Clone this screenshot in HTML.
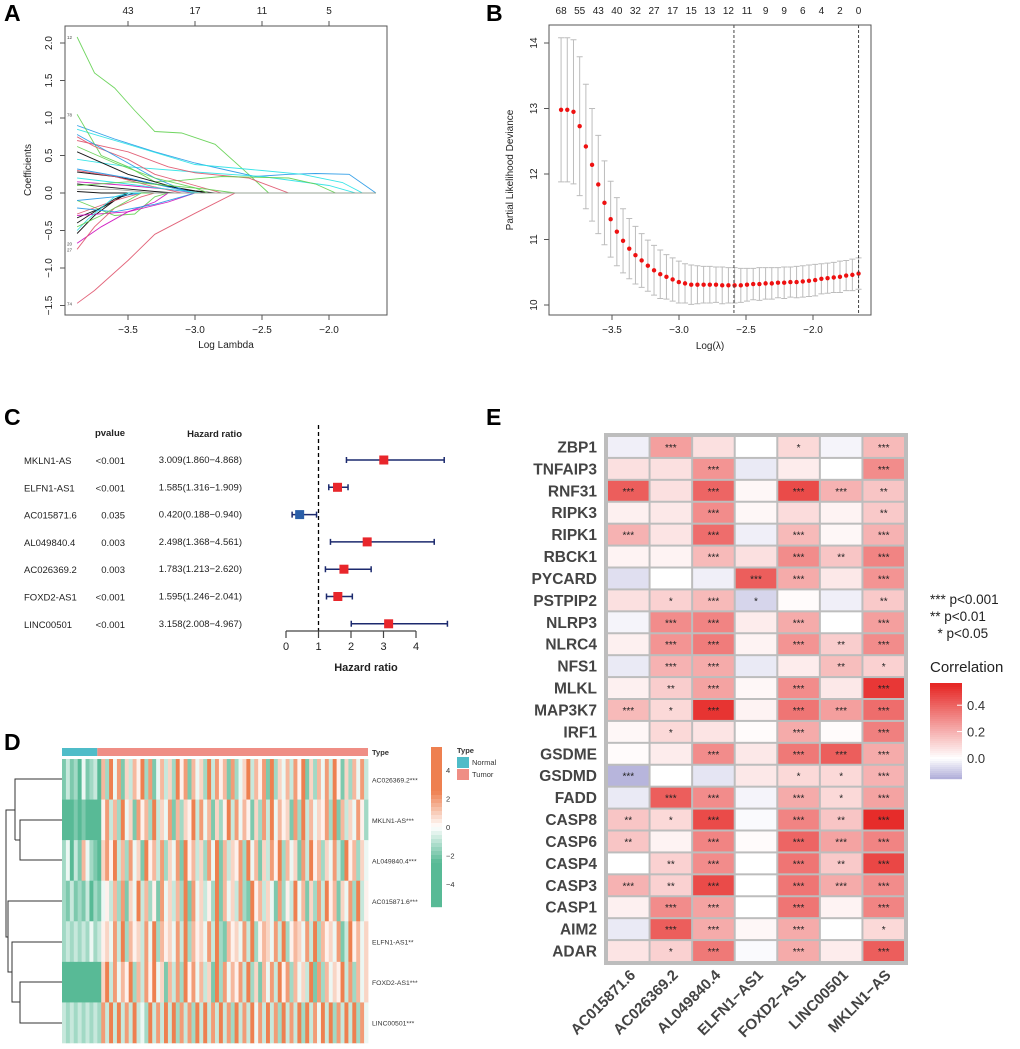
<!DOCTYPE html>
<html><head><meta charset="utf-8"><style>
html,body{margin:0;padding:0;background:#fff}
svg{display:block;font-family:"Liberation Sans",Arial,sans-serif}
</style></head><body>
<svg id="fig" width="1020" height="1049" viewBox="0 0 1020 1049" xmlns="http://www.w3.org/2000/svg">
<g id="pA"></g>
<g id="pB"></g>
<g id="pC"></g>
<g id="pD"></g>
<g id="pE"></g>
</svg>
<script>
const NS="http://www.w3.org/2000/svg";
function mk(parent,tag,attrs,text){const e=document.createElementNS(NS,tag);for(const k in attrs)e.setAttribute(k,attrs[k]);if(text!==undefined)e.textContent=text;parent.appendChild(e);return e;}

// ===== Panel A data =====
const aXTicks=[-3.5,-3.0,-2.5,-2.0];
const aYTicks=[-1.5,-1.0,-0.5,0.0,0.5,1.0,1.5,2.0];
const aTopLabels=["43","17","11","5"];
const aLineColors=["#61D04F","#DF536B","#2297E6","#28E2E5","#28E2E5","#DF536B","#61D04F","#61D04F",
"#000","#000","#000","#000","#000","#000","#000","#CD0BBC","#CD0BBC","#CD0BBC","#DF536B","#DF536B","#DF536B","#DF536B",
"#2297E6","#2297E6","#2297E6","#2297E6","#28E2E5","#28E2E5","#61D04F","#61D04F","#61D04F","#9E9E9E"];
const aLines=[
[[-3.88,2.08],[-3.75,1.6],[-3.6,1.4],[-3.45,1.1],[-3.3,0.82],[-3.1,0.8],[-2.85,0.65],[-2.6,0.25],[-2.45,0]],
[[-3.88,-1.47],[-3.75,-1.3],[-3.5,-0.9],[-3.3,-0.55],[-3.0,-0.27],[-2.7,0]],
[[-3.88,0.9],[-3.6,0.72],[-3.3,0.55],[-3.0,0.4],[-2.75,0.3],[-2.55,0.22],[-2.3,0.25],[-2.1,0.26],[-1.85,0.25],[-1.65,0]],
[[-3.88,0.85],[-3.5,0.65],[-3.0,0.38],[-2.5,0.3],[-2.2,0.25],[-1.9,0.14],[-1.75,0]],
[[-3.88,0.45],[-3.5,0.35],[-3.0,0.28],[-2.5,0.22],[-2.0,0.1],[-1.8,0]],
[[-3.88,0.7],[-3.5,0.55],[-3.2,0.35],[-3.0,0.27],[-2.6,0.2],[-2.3,0]],
[[-3.88,1.05],[-3.7,0.5],[-3.5,0.35],[-3.3,0.15],[-3.1,0.17],[-2.8,0.22],[-2.3,0.2],[-2.1,0.12],[-1.95,0]],
[[-3.88,-0.1],[-3.6,-0.3],[-3.45,-0.28],[-3.3,-0.05],[-3.2,0]],
[[-3.88,0.55],[-3.5,0.25],[-3.1,0.05],[-2.9,0]],
[[-3.88,0.28],[-3.6,0.22],[-3.3,0.12],[-3.0,0.03],[-2.85,0]],
[[-3.88,-0.33],[-3.7,-0.2],[-3.55,-0.05],[-3.45,0]],
[[-3.88,-0.4],[-3.75,-0.25],[-3.6,-0.08],[-3.5,0]],
[[-3.88,-0.54],[-3.75,-0.3],[-3.6,-0.1],[-3.5,0]],
[[-3.88,0.02],[-3.7,0.0],[-3.5,0.0]],
[[-3.88,0.12],[-3.6,0.07],[-3.3,0.02],[-3.15,0]],
[[-3.88,-0.67],[-3.7,-0.45],[-3.5,-0.25],[-3.3,-0.12],[-3.2,0]],
[[-3.88,-0.3],[-3.5,-0.25],[-3.2,-0.12],[-3.0,0]],
[[-3.88,0.15],[-3.5,0.1],[-3.2,0.05],[-3.0,0]],
[[-3.88,-0.75],[-3.75,-0.45],[-3.6,-0.2],[-3.4,-0.05],[-3.3,0]],
[[-3.88,0.75],[-3.75,0.62],[-3.5,0.45],[-3.3,0.25],[-3.0,0.1],[-2.8,0]],
[[-3.88,0.3],[-3.6,0.22],[-3.3,0.08],[-3.1,0]],
[[-3.88,-0.28],[-3.6,-0.1],[-3.4,0]],
[[-3.88,0.78],[-3.7,0.6],[-3.5,0.4],[-3.3,0.2],[-3.1,0.05],[-3.0,0]],
[[-3.88,-0.2],[-3.6,-0.25],[-3.3,-0.15],[-3.1,-0.05],[-3.0,0]],
[[-3.88,0.32],[-3.5,0.2],[-3.2,0.08],[-3.0,0]],
[[-3.88,-0.1],[-3.6,-0.05],[-3.4,0]],
[[-3.88,-0.5],[-3.8,-0.35],[-3.6,-0.05],[-3.5,0]],
[[-3.88,0.2],[-3.5,0.12],[-3.2,0.05],[-2.95,0]],
[[-3.88,0.62],[-3.6,0.4],[-3.3,0.2],[-3.0,0.07],[-2.9,0]],
[[-3.88,-0.45],[-3.7,-0.3],[-3.5,-0.1],[-3.4,0]],
[[-3.88,0.1],[-3.5,0.15],[-3.2,0.1],[-2.9,0.05],[-2.7,0]],
[[-3.88,0.05],[-3.6,0.05],[-3.3,0]]
];

// ===== Panel B data =====
const bMeans=[12.98,12.98,12.95,12.73,12.42,12.14,11.84,11.56,11.31,11.12,10.98,10.86,10.76,10.68,10.60,10.53,10.47,10.43,10.39,10.35,10.33,10.31,10.31,10.31,10.31,10.31,10.30,10.30,10.30,10.30,10.31,10.32,10.32,10.33,10.33,10.34,10.34,10.35,10.35,10.36,10.37,10.38,10.40,10.41,10.42,10.43,10.45,10.46,10.48];
const bUpper=[14.08,14.08,14.05,13.79,13.37,13.0,12.59,12.2,11.89,11.64,11.47,11.32,11.2,11.09,10.99,10.91,10.84,10.77,10.72,10.67,10.63,10.61,10.60,10.59,10.59,10.58,10.58,10.57,10.57,10.56,10.56,10.56,10.57,10.57,10.57,10.57,10.58,10.58,10.59,10.60,10.61,10.62,10.63,10.64,10.65,10.67,10.68,10.70,10.72];
const bLambdaStart=-3.88, bLambdaEnd=-1.66;
const bTopLabels=["68","55","43","40","32","27","17","15","13","12","11","9","9","6","4","2","0"];
const bXTicks=[-3.5,-3.0,-2.5,-2.0];
const bYTicks=[10,11,12,13,14];
const bVLines=[-2.59,-1.66];

// ===== Panel C data =====
const cGenes=["MKLN1-AS","ELFN1-AS1","AC015871.6","AL049840.4","AC026369.2","FOXD2-AS1","LINC00501"];
const cPvals=["<0.001","<0.001","0.035","0.003","0.003","<0.001","<0.001"];
const cHR=[3.009,1.585,0.420,2.498,1.783,1.595,3.158];
const cLow=[1.860,1.316,0.188,1.368,1.213,1.246,2.008];
const cHigh=[4.868,1.909,0.940,4.561,2.620,2.041,4.967];
const cTicks=[0,1,2,3,4];

// ===== Panel D data =====
const dGenes=["AC026369.2***","MKLN1-AS***","AL049840.4***","AC015871.6***","ELFN1-AS1**","FOXD2-AS1***","LINC00501***"];
const dRows=[
"131204123072948163759281473629581746293857182469375819264738591627483951627483",
"000101000058372946185729364817265938471625938475162839475618293746582917364852",
"240317421068593728461957382648195736284917365829471638592746183957264831957264",
"213121302145372816493725184637291846352917463821957364182539471628395716482935",
"232323242356483927563849275648392756483921756483925764839257648392756481395746",
"000000000069384759273859461738295847361928475839261748395827463918274659382746",
"323232323283939383934293839392838293938393829383948393829383929384939283939284"];
const dNormalCount=9;
const dLegendTicks=[4,2,0,-2,-4];

// ===== Panel E data =====
const eRows=["ZBP1","TNFAIP3","RNF31","RIPK3","RIPK1","RBCK1","PYCARD","PSTPIP2","NLRP3","NLRC4","NFS1","MLKL","MAP3K7","IRF1","GSDME","GSDMD","FADD","CASP8","CASP6","CASP4","CASP3","CASP1","AIM2","ADAR"];
const eCols=["AC015871.6","AC026369.2","AL049840.4","ELFN1\u2212AS1","FOXD2\u2212AS1","LINC00501","MKLN1\u2212AS"];
const eVals=[
[-0.03,0.25,0.08,0.0,0.1,-0.02,0.18],
[0.08,0.08,0.28,-0.04,0.05,0.0,0.3],
[0.42,0.08,0.4,0.02,0.47,0.2,0.15],
[0.04,0.06,0.3,0.02,0.09,0.03,0.14],
[0.2,0.07,0.38,-0.03,0.18,0.02,0.2],
[0.03,0.03,0.18,0.08,0.3,0.15,0.32],
[-0.06,0.0,-0.03,0.42,0.22,0.06,0.28],
[0.08,0.12,0.18,-0.08,0.01,-0.03,0.14],
[-0.02,0.3,0.32,0.05,0.22,0.0,0.25],
[0.04,0.28,0.34,0.03,0.28,0.13,0.3],
[-0.04,0.2,0.22,-0.04,0.05,0.17,0.12],
[0.04,0.13,0.24,0.02,0.3,0.06,0.52],
[0.18,0.1,0.53,0.03,0.36,0.25,0.38],
[0.02,0.1,0.07,0.01,0.22,0.01,0.33],
[0.01,0.05,0.3,0.06,0.35,0.42,0.22],
[-0.14,0.0,-0.05,0.06,0.1,0.1,0.2],
[-0.04,0.42,0.3,-0.02,0.22,0.1,0.24],
[0.15,0.1,0.47,-0.01,0.32,0.15,0.55],
[0.15,0.03,0.32,0.01,0.4,0.24,0.32],
[0.0,0.12,0.3,0.0,0.36,0.14,0.48],
[0.2,0.12,0.47,0.0,0.36,0.22,0.3],
[0.04,0.3,0.24,0.0,0.36,0.03,0.32],
[-0.04,0.42,0.22,0.02,0.22,0.0,0.1],
[0.07,0.12,0.35,-0.01,0.22,0.05,0.42]];
const eStars=[
["","***","","","*","","***"],["","","***","","","","***"],["***","","***","","***","***","**"],
["","","***","","","","**"],["***","","***","","***","","***"],["","","***","","***","**","***"],
["","","","***","***","","***"],["","*","***","*","","","**"],["","***","***","","***","","***"],
["","***","***","","***","**","***"],["","***","***","","","**","*"],["","**","***","","***","","***"],
["***","*","***","","***","***","***"],["","*","","","***","","***"],["","","***","","***","***","***"],
["***","","","","*","*","***"],["","***","***","","***","*","***"],["**","*","***","","***","**","***"],
["**","","***","","***","***","***"],["","**","***","","***","**","***"],["***","**","***","","***","***","***"],
["","***","***","","***","","***"],["","***","***","","***","","*"],["","*","***","","***","","***"]];
const eLegTicks=[0.4,0.2,0.0];
const eSigLabels=["*** p<0.001","** p<0.01","  * p<0.05"];

// ===== helpers =====
function lerp(a,b,t){return Math.round(a+(b-a)*t);}
function mix(c1,c2,t){t=Math.max(0,Math.min(1,t));return `rgb(${lerp(c1[0],c2[0],t)},${lerp(c1[1],c2[1],t)},${lerp(c1[2],c2[2],t)})`;}
function letter(g,x,y,t){const e=mk(g,'text',{x:x,y:y,'font-size':23,'font-weight':'bold',fill:'#000'},t);}

// ===== Panel A =====
(function(){
const g=document.getElementById('pA');
letter(g,4,21,'A');
const xA=l=>128+(l+3.5)*134, yA=c=>193-c*75;
const L=65,R=387,T=26,B=315;
aLines.forEach((ln,i)=>{
 const pts=ln.slice(); const last=pts[pts.length-1]; if(last[0]<-1.65) pts.push([-1.65,0]);
 const p=mk(g,'polyline',{points:pts.map(q=>xA(q[0]).toFixed(1)+','+yA(q[1]).toFixed(1)).join(' '),fill:'none',stroke:aLineColors[i%aLineColors.length],'stroke-width':0.9,opacity:0.9});
 
});
const fr=mk(g,'rect',{x:L,y:T,width:R-L,height:B-T,fill:'none',stroke:'#555','stroke-width':1});

aXTicks.forEach(v=>{const x=xA(v);mk(g,'line',{x1:x,y1:B,x2:x,y2:B+5,stroke:'#555'});mk(g,'line',{x1:x,y1:T,x2:x,y2:T-5,stroke:'#555'});
 const t=mk(g,'text',{x:x,y:B+18,'font-size':10,'text-anchor':'middle',fill:'#222'},(v<0?'\u2212':'')+Math.abs(v).toFixed(1));});
aTopLabels.forEach((s,i)=>{const t=mk(g,'text',{x:xA(aXTicks[i]),y:14,'font-size':10,'text-anchor':'middle',fill:'#222'},s);});
aYTicks.forEach(v=>{const y=yA(v);mk(g,'line',{x1:L,y1:y,x2:L-5,y2:y,stroke:'#555'});
 const t=mk(g,'text',{x:0,y:0,'font-size':10,'text-anchor':'middle',fill:'#222',transform:`translate(52,${y}) rotate(-90)`},(v<0?'\u2212':'')+Math.abs(v).toFixed(1));});
let t=mk(g,'text',{x:0,y:0,'font-size':10,'text-anchor':'middle',fill:'#222',transform:'translate(31,170) rotate(-90)'},'Coefficients');
t=mk(g,'text',{x:226,y:348,'font-size':10,'text-anchor':'middle',fill:'#222'},'Log Lambda');
[["12",2.08],["74",-1.47],["20",-0.67],["27",-0.75],["78",1.05]].forEach(a=>{const e=mk(g,'text',{x:67,y:yA(a[1])+2,'font-size':4.5,fill:'#444'},a[0]);});
})();

// ===== Panel B =====
(function(){
const g=document.getElementById('pB');
letter(g,486,21,'B');
const xB=l=>612+(l+3.5)*134, yB=v=>305-(v-10)*65.5;
const L=549,R=871,T=25,B=315;
const n=bMeans.length, step=(bLambdaEnd-bLambdaStart)/(n-1);
bMeans.forEach((m,i)=>{
 const x=xB(bLambdaStart+i*step), se=bUpper[i]-m;
 const eb=mk(g,'path',{d:`M${x},${yB(m+se)}V${yB(m-se)}M${x-3},${yB(m+se)}H${x+3}M${x-3},${yB(m-se)}H${x+3}`,stroke:'#bdbdbd','stroke-width':1,fill:'none'});
 
});
bMeans.forEach((m,i)=>{const c=mk(g,'circle',{cx:xB(bLambdaStart+i*step),cy:yB(m),r:2.2,fill:'#ee1111'});});
bTopLabels.forEach((s,i)=>{const e=mk(g,'text',{x:xB(bLambdaStart+i*3*step),y:14,'font-size':10,'text-anchor':'middle',fill:'#222'},s);});
bVLines.forEach(v=>{const e=mk(g,'line',{x1:xB(v),y1:T,x2:xB(v),y2:B,stroke:'#444','stroke-dasharray':'3,2','stroke-width':1});});
const fr=mk(g,'rect',{x:L,y:T,width:R-L,height:B-T,fill:'none',stroke:'#555','stroke-width':1});
bXTicks.forEach(v=>{const x=xB(v);mk(g,'line',{x1:x,y1:B,x2:x,y2:B+5,stroke:'#555'});const e=mk(g,'text',{x:x,y:B+18,'font-size':10,'text-anchor':'middle',fill:'#222'},'\u2212'+Math.abs(v).toFixed(1));});
bYTicks.forEach(v=>{const y=yB(v);mk(g,'line',{x1:L,y1:y,x2:L-5,y2:y,stroke:'#555'});const e=mk(g,'text',{x:0,y:0,'font-size':10,'text-anchor':'middle',fill:'#222',transform:`translate(537,${y}) rotate(-90)`},String(v));});
let t=mk(g,'text',{x:0,y:0,'font-size':10,'text-anchor':'middle',fill:'#222',transform:'translate(513,170) rotate(-90)'},'Partial Likelihood Deviance');
t=mk(g,'text',{x:710,y:349,'font-size':10,'text-anchor':'middle',fill:'#222'},'Log(\u03bb)');
})();

// ===== Panel C =====
(function(){
const g=document.getElementById('pC');
letter(g,4,425,'C');
const xC=v=>286+v*32.5, rowY=i=>460+i*27.3;
let t=mk(g,'text',{x:110,y:436,'font-size':9.5,'font-weight':'bold','text-anchor':'middle',fill:'#222'},'pvalue');
t=mk(g,'text',{x:242,y:437,'font-size':9.5,'font-weight':'bold','text-anchor':'end',fill:'#222'},'Hazard ratio');
const dl=mk(g,'line',{x1:xC(1),y1:425,x2:xC(1),y2:631,stroke:'#000','stroke-dasharray':'4,3','stroke-width':1.3});
cGenes.forEach((gn,i)=>{const y=rowY(i);
 let e=mk(g,'text',{x:24,y:y+4,'font-size':9.5,fill:'#222'},gn);
 e=mk(g,'text',{x:125,y:y+4,'font-size':9.5,'text-anchor':'end',fill:'#222'},cPvals[i]);
 e=mk(g,'text',{x:242,y:y+3,'font-size':9.5,'text-anchor':'end',fill:'#222'},`${cHR[i].toFixed(3)}(${cLow[i].toFixed(3)}\u2212${cHigh[i].toFixed(3)})`);
 e=mk(g,'path',{d:`M${xC(cLow[i])},${y}H${xC(cHigh[i])}M${xC(cLow[i])},${y-3}V${y+3}M${xC(cHigh[i])},${y-3}V${y+3}`,stroke:'#1c2a6e','stroke-width':1.5,fill:'none'});
 e=mk(g,'rect',{x:xC(cHR[i])-4.5,y:y-4.5,width:9,height:9,fill:cHR[i]>1?'#e8262b':'#2a5ea8'});
});
const ax=mk(g,'path',{d:`M${xC(0)},631H${xC(4)}`+cTicks.map(v=>`M${xC(v)},631V638`).join(''),stroke:'#444','stroke-width':1.2,fill:'none'});
cTicks.forEach(v=>{const e=mk(g,'text',{x:xC(v),y:650,'font-size':11,'text-anchor':'middle',fill:'#222'},String(v));});
t=mk(g,'text',{x:366,y:671,'font-size':11,'font-weight':'bold','text-anchor':'middle',fill:'#222'},'Hazard ratio');
})();

// ===== Panel D =====
(function(){
const g=document.getElementById('pD');
letter(g,4,750,'D');
const L=62,R=368,T=759,B=1043, rh=(B-T)/dRows.length;
const G=[88,186,150],W=[255,255,255],O=[238,128,80];
const col=d=>{const v=d/9*2-1;return v<0?mix(W,G,-v):mix(W,O,v);};
dRows.forEach((s,r)=>{const cw=(R-L)/s.length;
 for(let c=0;c<s.length;c++){const e=mk(g,'rect',{x:(L+c*cw).toFixed(2),y:(T+r*rh).toFixed(2),width:(cw+0.4).toFixed(2),height:(rh+0.3).toFixed(2),fill:col(+s[c])});}
 const e=mk(g,'text',{x:372,y:T+r*rh+rh/2+3,'font-size':6.8,fill:'#333'},dGenes[r]);
});
const cw0=(R-L)/dRows[0].length;
let e=mk(g,'rect',{x:L,y:748,width:dNormalCount*cw0,height:8,fill:'#4fbcc8'});
e=mk(g,'rect',{x:L+dNormalCount*cw0,y:748,width:R-L-dNormalCount*cw0,height:8,fill:'#ef8e85'});
e=mk(g,'text',{x:372,y:755,'font-size':7.5,'font-weight':'bold',fill:'#333'},'Type');
const den=mk(g,'path',{d:'M62,779H15V840M62,820H20V860H62M20,840H15M15,810H6V937H8M62,901H8V972H12M62,942H12V1002H20M62,982H20V1023H62',stroke:'#333','stroke-width':1,fill:'none'});

const lg=mk(g,'g',{});
for(let i=0;i<40;i++){const v=1-i/39*2;mk(lg,'rect',{x:431,y:747+i*4,width:11,height:4.2,fill:v<0?mix(W,G,Math.min(1,-v*2.2)):mix(W,O,Math.min(1,v*2.2))});}
dLegendTicks.forEach(v=>{const el=mk(g,'text',{x:446,y:827-v*14.2+3,'font-size':7.5,fill:'#333'},(v<0?'\u2212':'')+Math.abs(v));});
e=mk(g,'text',{x:457,y:753,'font-size':7.5,'font-weight':'bold',fill:'#333'},'Type');
e=mk(g,'rect',{x:457,y:757,width:12,height:11,fill:'#4fbcc8'});
e=mk(g,'rect',{x:457,y:769,width:12,height:11,fill:'#ef8e85'});
e=mk(g,'text',{x:472,y:765,'font-size':7.5,fill:'#333'},'Normal');
e=mk(g,'text',{x:472,y:777,'font-size':7.5,fill:'#333'},'Tumor');
})();

// ===== Panel E =====
(function(){
const g=document.getElementById('pE');
letter(g,486,425,'E');
const L=607,R=905,T=436,B=962, cw=(R-L)/eCols.length, rh=(B-T)/eRows.length;
const RED=[230,40,38],W=[255,255,255],LAV=[178,176,218];
const col=v=>v>=0?mix(W,RED,v/0.56):mix(W,LAV,-v/0.15);
const bg=mk(g,'rect',{x:L-3,y:T-3,width:R-L+6,height:B-T+6,fill:'#bdbdbd'});
eRows.forEach((rn,r)=>{
 const y=T+r*rh;
 let e=mk(g,'text',{x:597,y:y+rh/2+5.5,'font-size':15.5,'font-weight':'bold','text-anchor':'end',fill:'#444'},rn);
 eCols.forEach((cn,c)=>{
  const x=L+c*cw;
  e=mk(g,'rect',{x:x+1,y:y+1,width:cw-2,height:rh-2,fill:col(eVals[r][c])});
  if(eStars[r][c]){e=mk(g,'text',{x:x+cw/2,y:y+rh/2+4,'font-size':10,'text-anchor':'middle',fill:'#222'},eStars[r][c]);}
 });
});
eCols.forEach((cn,c)=>{const x=L+c*cw+cw/2+8;const e=mk(g,'text',{x:0,y:0,'font-size':15,'font-weight':'bold','text-anchor':'end',fill:'#444',transform:`translate(${x},976) rotate(-45)`},cn);});
eSigLabels.forEach((s,i)=>{const e=mk(g,'text',{x:930,y:604+i*17,'font-size':13.5,fill:'#222'},s);e.setAttribute('style','white-space:pre');});
let e=mk(g,'text',{x:930,y:672,'font-size':15,fill:'#222'},'Correlation');
const lg=mk(g,'g',{});
for(let i=0;i<48;i++){const v=0.57-(i/47)*0.72;mk(lg,'rect',{x:930,y:683+i*2,width:32,height:2.2,fill:col(v)});}
eLegTicks.forEach(v=>{const y=758-v*132;mk(g,'line',{x1:957,y1:y,x2:962,y2:y,stroke:'#fff'});const el=mk(g,'text',{x:967,y:y+5,'font-size':13,fill:'#333'},v.toFixed(1));});
})();
</script>
</body></html>
